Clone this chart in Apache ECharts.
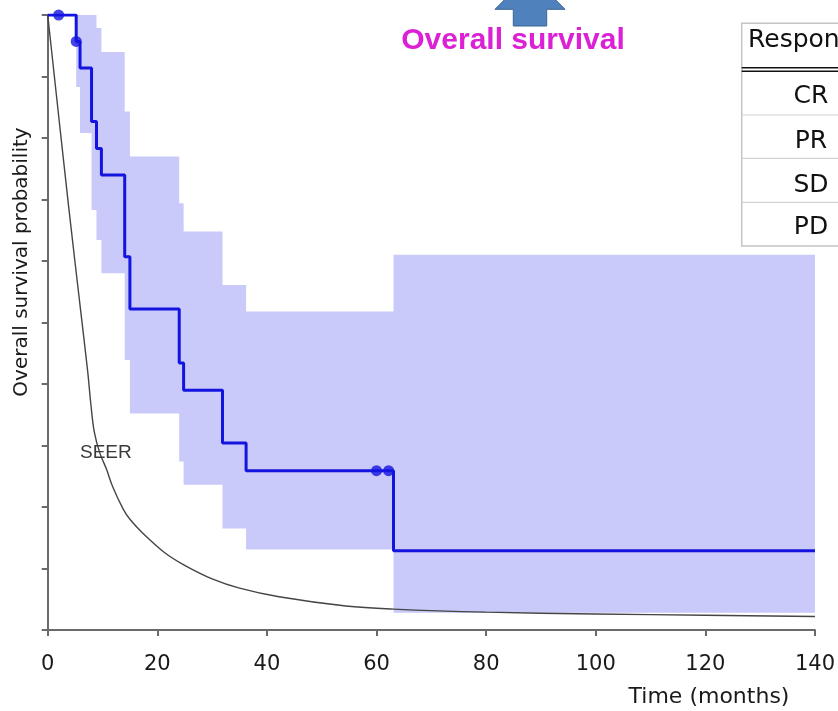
<!DOCTYPE html>
<html>
<head>
<meta charset="utf-8">
<script src="https://cdn.jsdelivr.net/npm/echarts@6/dist/echarts.min.js"></script>
<style>
html,body{margin:0;padding:0;background:#fff;}
#chart{width:838px;height:711px;}
</style>
</head>
<body>
<div id="chart"></div>
<script>
// ---- Data ----
// Kaplan-Meier overall survival (step changes at these months)
const kmTimes    = [0, 5.2, 5.9, 8.0, 8.9, 9.8, 14.05, 15.0, 24.0, 24.8, 31.9, 36.2, 63.1, 140];
const kmSurvival = [1.0, 0.957, 0.914, 0.827, 0.783, 0.740, 0.607, 0.522, 0.434, 0.390, 0.304, 0.259, 0.129, 0.129];
// Censoring marks
const censorTimes = [2.0, 5.2, 60.0, 62.2];
const censorSurv  = [1.0, 0.957, 0.259, 0.259];
// Confidence band (value holds from each time until the next)
const bandTimes = [5.2, 5.9, 8.0, 8.9, 9.8, 14.05, 15.0, 24.0, 24.8, 31.9, 36.2, 63.1, 140];
const bandLower = [0.883, 0.808, 0.683, 0.634, 0.580, 0.439, 0.352, 0.274, 0.236, 0.165, 0.131, 0.028, 0.028];
const bandUpper = [1.0, 1.0, 1.0, 0.979, 0.940, 0.843, 0.770, 0.694, 0.648, 0.561, 0.518, 0.610, 0.610];
// SEER reference curve
const seerTimes = [0, 3.8, 6.2, 7.3, 7.9, 8.5, 9.5, 10.7, 11.9, 13.75, 15.0, 17.4, 21.3, 25.0, 30.0, 35.0, 42.2, 54.4, 63.1, 80.0, 100.0, 120.0, 140];
const seerSurv  = [1.0, 0.690, 0.505, 0.420, 0.365, 0.322, 0.288, 0.262, 0.232, 0.197, 0.180, 0.157, 0.126, 0.105, 0.083, 0.068, 0.054, 0.039, 0.034, 0.029, 0.026, 0.024, 0.022];
// Axis ticks
const xTicks = [0, 20, 40, 60, 80, 100, 120, 140];
// Table
const tableHeader = 'Response';
const responseCategories = ['CR', 'PR', 'SD', 'PD'];

const zip = (a, b) => a.map((v, i) => [v, b[i]]);

const chart = echarts.init(document.getElementById('chart'), null, {renderer: 'canvas'});

const axisFont = 'DejaVu Sans';
const tableX = 741.7, tableY = 23.3;
const rowLines = [115, 158.3, 202.3];
const rowCenters = [96.7, 141, 185, 227.7];

const graphics = [
  // arrow
  {type: 'polygon', z: 100, shape: {points: [[495, 9.3], [530, -26], [565, 9.3], [546.7, 9.3], [546.7, 26], [513.3, 26], [513.3, 9.3]]},
   style: {fill: '#4f81bd', stroke: '#3a6494', lineWidth: 1}},
  // title
  {type: 'text', z: 100, x: 513, y: 41, style: {text: 'Overall survival', fill: '#dc20d6', font: 'bold 30px "Liberation Sans", Arial, sans-serif', align: 'center', verticalAlign: 'middle'}},
  // SEER label
  {type: 'text', z: 100, x: 80, y: 453, style: {text: 'SEER', fill: '#3a3a3a', font: '19px "Liberation Sans", Arial, sans-serif', align: 'left', verticalAlign: 'middle'}},
  // y axis name
  {type: 'text', z: 100, x: 22, y: 262, rotation: Math.PI / 2, style: {text: 'Overall survival probability', fill: '#1a1a1a', font: '20px "' + axisFont + '"', align: 'center', verticalAlign: 'middle'}},
  // x axis name
  {type: 'text', z: 100, x: 709, y: 697, style: {text: 'Time (months)', fill: '#1a1a1a', font: '22px "' + axisFont + '"', align: 'center', verticalAlign: 'middle'}},
  // table frame
  {type: 'rect', z: 100, shape: {x: tableX, y: tableY, width: 140, height: 246 - tableY}, style: {fill: '#fff', stroke: '#c4c4c4', lineWidth: 1.5}},
  {type: 'line', z: 101, shape: {x1: tableX, y1: 67.7, x2: 838, y2: 67.7}, style: {stroke: '#111', lineWidth: 1.5}},
  {type: 'line', z: 101, shape: {x1: tableX, y1: 71.2, x2: 838, y2: 71.2}, style: {stroke: '#111', lineWidth: 1.5}},
  {type: 'text', z: 101, x: 748, y: 40, style: {text: tableHeader, fill: '#111', font: '25px "' + axisFont + '"', align: 'left', verticalAlign: 'middle'}}
];
rowLines.forEach(y => graphics.push({type: 'line', z: 101, shape: {x1: tableX, y1: y, x2: 838, y2: y}, style: {stroke: '#d2d2d2', lineWidth: 1.2}}));
responseCategories.forEach((c, i) => graphics.push({type: 'text', z: 101, x: 811, y: rowCenters[i], style: {text: c, fill: '#111', font: '25px "' + axisFont + '"', align: 'center', verticalAlign: 'middle'}}));

// band as one stepped polygon, built through the axes' coordinate conversion
function renderBand(params, api) {
  const upperPts = [], lowerPts = [];
  for (let i = 0; i < bandTimes.length; i++) {
    const t0 = bandTimes[i];
    const t1 = i + 1 < bandTimes.length ? bandTimes[i + 1] : bandTimes[i];
    upperPts.push(api.coord([t0, bandUpper[i]]), api.coord([t1, bandUpper[i]]));
    lowerPts.push(api.coord([t0, bandLower[i]]), api.coord([t1, bandLower[i]]));
  }
  const points = upperPts.concat(lowerPts.reverse());
  return {type: 'polygon', shape: {points: points}, style: {fill: '#c9c9fa'}, silent: true};
}

const option = {
  backgroundColor: '#fff',
  animation: false,
  grid: {left: 47.7, right: 20, top: 15, bottom: 81, containLabel: false},
  xAxis: {
    type: 'value', min: 0, max: 140, interval: 20,
    axisLine: {show: true, lineStyle: {color: '#6a6a6a', width: 2}},
    axisTick: {show: true, length: 6, lineStyle: {color: '#6a6a6a', width: 2}},
    axisLabel: {show: true, margin: 24, fontSize: 21, fontFamily: axisFont, color: '#1a1a1a',
      formatter: v => xTicks.indexOf(v) >= 0 ? String(v) : ''},
    splitLine: {show: false}
  },
  yAxis: {
    type: 'value', min: 0, max: 1, interval: 0.1,
    axisLine: {show: true, lineStyle: {color: '#6a6a6a', width: 2}},
    axisTick: {show: true, length: 6, lineStyle: {color: '#6a6a6a', width: 2}},
    axisLabel: {show: false},
    splitLine: {show: false}
  },
  graphic: graphics,
  series: [
    {
      name: 'band', type: 'custom', renderItem: renderBand, data: [[bandTimes[0], bandLower[0]]],
      silent: true, z: 1, clip: true
    },
    {
      name: 'SEER', type: 'line', smooth: 0.35, symbol: 'none',
      data: zip(seerTimes, seerSurv), lineStyle: {color: '#454545', width: 1.4}, z: 3
    },
    {
      name: 'Overall survival', type: 'line', step: 'end', symbol: 'none',
      data: zip(kmTimes, kmSurvival), lineStyle: {color: '#1414e0', width: 3}, z: 4
    },
    {
      name: 'Censored', type: 'scatter', symbol: 'circle', symbolSize: 11, clip: false,
      data: zip(censorTimes, censorSurv), itemStyle: {color: '#1414e0'}, z: 5
    }
  ]
};
chart.setOption(option);
</script>
</body>
</html>
